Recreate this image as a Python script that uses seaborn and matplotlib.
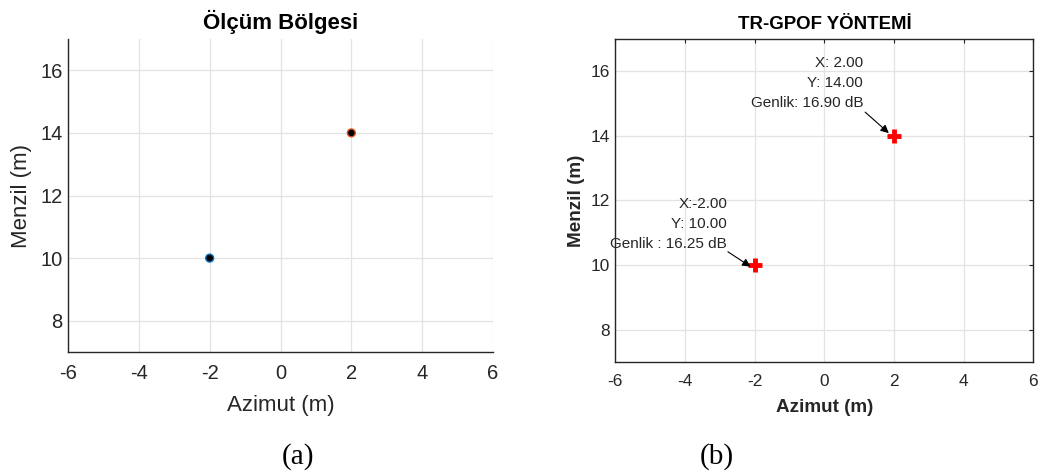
import matplotlib
matplotlib.use("Agg")
import matplotlib.pyplot as plt
import seaborn as sns
import pandas as pd

# Target positions (azimuth, range) and estimated amplitudes
azimut = [-2.0, 2.0]
menzil = [10.0, 14.0]
genlik_db = [16.25, 16.90]
edge_colors = ["#0072BD", "#D95319"]

x_ticks = [-6, -4, -2, 0, 2, 4, 6]
y_ticks = [8, 10, 12, 14, 16]

df = pd.DataFrame({"Azimut": azimut, "Menzil": menzil, "Genlik": genlik_db})

sns.set_theme(style="whitegrid")
plt.rcParams["font.family"] = ["Liberation Sans", "DejaVu Sans"]
plt.rcParams["axes.unicode_minus"] = False

text_color = "#262626"
grid_color = "#e3e3e3"

fig = plt.figure(figsize=(10.43, 4.74), dpi=100)
ax1 = fig.add_axes([0.0652, 0.2574, 0.4075, 0.6603])
ax2 = fig.add_axes([0.590, 0.2363, 0.4008, 0.6820])

# (a) measurement region
sns.scatterplot(data=df, x="Azimut", y="Menzil", ax=ax1, color="black",
                edgecolor=edge_colors, linewidth=1.0, s=32, zorder=3, legend=False)
ax1.set_xlim(-6, 6)
ax1.set_ylim(7, 17)
ax1.set_xticks(x_ticks)
ax1.set_yticks(y_ticks)
ax1.set_title("Ölçüm Bölgesi", fontsize=16, fontweight="bold", color="black", pad=7)
ax1.set_xlabel("Azimut (m)", fontsize=16, color=text_color, labelpad=8)
ax1.set_ylabel("Menzil (m)", fontsize=16, color=text_color, labelpad=6)
ax1.tick_params(axis="y", labelsize=14.5, colors=text_color, direction="in",
                length=3, width=0.8, pad=4)
ax1.tick_params(axis="x", labelsize=14.5, colors=text_color, direction="in",
                length=3, width=0.8, pad=9)
for side in ["top", "right"]:
    ax1.spines[side].set_visible(False)
for side in ["left", "bottom"]:
    ax1.spines[side].set_color("#262626")
    ax1.spines[side].set_linewidth(1.0)

# (b) TR-GPOF result
sns.scatterplot(data=df, x="Azimut", y="Menzil", ax=ax2, color="#ff0000",
                marker="+", s=110, linewidth=3.5, zorder=3, legend=False)
ax2.set_xlim(-6, 6)
ax2.set_ylim(7, 17)
ax2.set_xticks(x_ticks)
ax2.set_yticks(y_ticks)
ax2.set_title("TR-GPOF YÖNTEMİ", fontsize=13.4, fontweight="bold", color="black", pad=7)
ax2.set_xlabel("Azimut (m)", fontsize=13.6, fontweight="bold", color=text_color, labelpad=7)
ax2.set_ylabel("Menzil (m)", fontsize=13.6, fontweight="bold", color=text_color, labelpad=4)
ax2.tick_params(axis="y", labelsize=12.4, colors=text_color, direction="in",
                length=3, width=0.8, pad=4, right=True)
ax2.tick_params(axis="x", labelsize=12.4, colors=text_color, direction="in",
                length=3, width=0.8, pad=9, top=True)
for side in ["top", "right", "left", "bottom"]:
    ax2.spines[side].set_visible(True)
    ax2.spines[side].set_color("#262626")
    ax2.spines[side].set_linewidth(1.0)

for ax in (ax1, ax2):
    ax.set_facecolor("white")
    ax.grid(True, color=grid_color, linewidth=0.9)
    ax.set_axisbelow(True)

# Data tips for the detected peaks
tip_specs = [
    # (index, label, text anchor, arrow start, arrow end)
    (0, "X:{:.2f}\nY: {:.2f}\nGenlik : {:.2f} dB", (-2.79, 10.43), (-2.77, 10.41), (-2.12, 9.95)),
    (1, "X: {:.2f}\nY: {:.2f}\nGenlik: {:.2f} dB", (1.11, 14.78), (1.17, 14.73), (1.85, 14.08)),
]
for i, fmt, txt_pos, arr_start, arr_end in tip_specs:
    label = fmt.format(azimut[i], menzil[i], genlik_db[i])
    ax2.text(txt_pos[0], txt_pos[1], label, ha="right", va="bottom",
             fontsize=11, color=text_color, linespacing=1.56)
    ax2.annotate("", xy=arr_end, xytext=arr_start,
                 arrowprops=dict(arrowstyle="-|>", color="black", lw=0.8,
                                 mutation_scale=12, shrinkA=0, shrinkB=0))

fig.text(298 / 1043, 1 - 457 / 474, "(a)", ha="center", va="center",
         fontsize=21, family="Liberation Serif", color="black")
fig.text(717 / 1043, 1 - 457 / 474, "(b)", ha="center", va="center",
         fontsize=21, family="Liberation Serif", color="black")

fig.savefig("out.png", dpi=100, facecolor="white")
